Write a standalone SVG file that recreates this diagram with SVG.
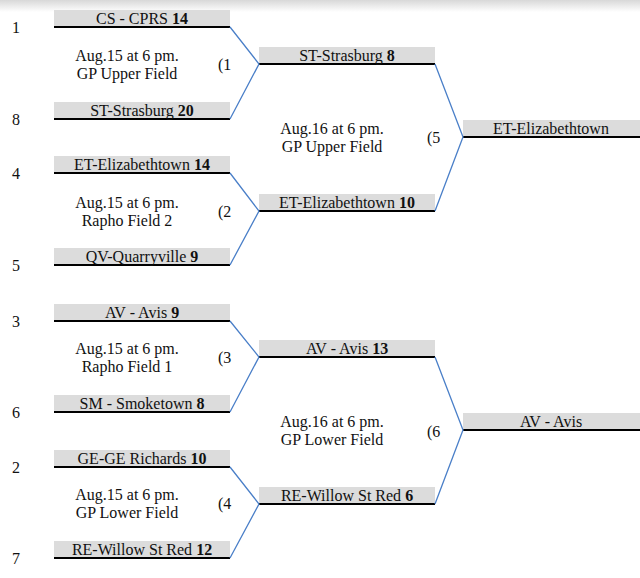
<svg xmlns="http://www.w3.org/2000/svg" width="640" height="578" viewBox="0 0 640 578" font-family="'Liberation Serif','Times New Roman','DejaVu Serif',serif">
<defs><linearGradient id="g" x1="0" y1="0" x2="0" y2="1"><stop offset="0" stop-color="#d8d8d8"/><stop offset="1" stop-color="#fff"/></linearGradient></defs>
<style>
text{font-family:'Liberation Serif','Times New Roman','DejaVu Serif',serif;font-size:16px;fill:#111}
.c{text-anchor:middle}
.bx{fill:#dcdcdc}
.ln{stroke:#000;stroke-width:2}
.cn{fill:none;stroke:#4a7fc8;stroke-width:1.3}
</style>
<rect width="640" height="578" fill="#fff"/>
<rect width="640" height="12" fill="url(#g)"/>
<g id="seeds">
<text x="12" y="33">1</text><text x="12" y="125">8</text><text x="12" y="179">4</text><text x="12" y="271">5</text>
<text x="12" y="327">3</text><text x="12" y="418">6</text><text x="12" y="473">2</text><text x="12" y="564">7</text>
</g>
<g id="r1">
<g id="n1"><rect class="bx" x="54" y="10" width="176" height="17"/><line class="ln" x1="54" y1="27" x2="230" y2="27"/><text class="c" x="142" y="24">CS - CPRS <tspan font-weight="bold">14</tspan></text></g>
<g id="n8"><rect class="bx" x="54" y="102" width="176" height="17"/><line class="ln" x1="54" y1="119" x2="230" y2="119"/><text class="c" x="142" y="116">ST-Strasburg <tspan font-weight="bold">20</tspan></text></g>
<g id="n4"><rect class="bx" x="54" y="156" width="176" height="17"/><line class="ln" x1="54" y1="173" x2="230" y2="173"/><text class="c" x="142" y="170">ET-Elizabethtown <tspan font-weight="bold">14</tspan></text></g>
<g id="n5"><rect class="bx" x="54" y="248" width="176" height="17"/><line class="ln" x1="54" y1="265" x2="230" y2="265"/><text class="c" x="142" y="262">QV-Quarryville <tspan font-weight="bold">9</tspan></text></g>
<g id="n3"><rect class="bx" x="54" y="304" width="176" height="17"/><line class="ln" x1="54" y1="321" x2="230" y2="321"/><text class="c" x="142" y="318">AV - Avis <tspan font-weight="bold">9</tspan></text></g>
<g id="n6"><rect class="bx" x="54" y="395" width="176" height="17"/><line class="ln" x1="54" y1="412" x2="230" y2="412"/><text class="c" x="142" y="409">SM - Smoketown <tspan font-weight="bold">8</tspan></text></g>
<g id="n2"><rect class="bx" x="54" y="450" width="176" height="17"/><line class="ln" x1="54" y1="467" x2="230" y2="467"/><text class="c" x="142" y="464">GE-GE Richards <tspan font-weight="bold">10</tspan></text></g>
<g id="n7"><rect class="bx" x="54" y="541" width="176" height="17"/><line class="ln" x1="54" y1="558" x2="230" y2="558"/><text class="c" x="142" y="555">RE-Willow St Red <tspan font-weight="bold">12</tspan></text></g>
</g>
<g id="r2">
<g id="w1"><rect class="bx" x="259" y="47" width="176" height="17"/><line class="ln" x1="259" y1="64" x2="435" y2="64"/><text class="c" x="347" y="61">ST-Strasburg <tspan font-weight="bold">8</tspan></text></g>
<g id="w2"><rect class="bx" x="259" y="194" width="176" height="17"/><line class="ln" x1="259" y1="211" x2="435" y2="211"/><text class="c" x="347" y="208">ET-Elizabethtown <tspan font-weight="bold">10</tspan></text></g>
<g id="w3"><rect class="bx" x="259" y="340" width="176" height="17"/><line class="ln" x1="259" y1="357" x2="435" y2="357"/><text class="c" x="347" y="354">AV - Avis <tspan font-weight="bold">13</tspan></text></g>
<g id="w4"><rect class="bx" x="259" y="487" width="176" height="17"/><line class="ln" x1="259" y1="504" x2="435" y2="504"/><text class="c" x="347" y="501">RE-Willow St Red <tspan font-weight="bold">6</tspan></text></g>
</g>
<g id="r3">
<g id="f1"><rect class="bx" x="463" y="120" width="177" height="17"/><line class="ln" x1="463" y1="137" x2="640" y2="137"/><text class="c" x="551" y="134">ET-Elizabethtown</text></g>
<g id="f2"><rect class="bx" x="463" y="413" width="177" height="17"/><line class="ln" x1="463" y1="430" x2="640" y2="430"/><text class="c" x="551" y="427">AV - Avis</text></g>
</g>
<g id="connectors">
<polyline class="cn" points="230,27 259,64 230,119"/>
<polyline class="cn" points="230,173 259,211 230,265"/>
<polyline class="cn" points="230,321 259,357 230,412"/>
<polyline class="cn" points="230,467 259,504 230,558"/>
<polyline class="cn" points="435,64 463,137 435,211"/>
<polyline class="cn" points="435,357 463,430 435,504"/>
</g>
<g id="labels">
<text class="c" x="127" y="61">Aug.15 at 6 pm.</text><text class="c" x="127" y="79">GP Upper Field</text><text x="218" y="70">(1</text>
<text class="c" x="127" y="208">Aug.15 at 6 pm.</text><text class="c" x="127" y="226">Rapho Field 2</text><text x="218" y="217">(2</text>
<text class="c" x="127" y="354">Aug.15 at 6 pm.</text><text class="c" x="127" y="372">Rapho Field 1</text><text x="218" y="363">(3</text>
<text class="c" x="127" y="500">Aug.15 at 6 pm.</text><text class="c" x="127" y="518">GP Lower Field</text><text x="218" y="509">(4</text>
<text class="c" x="332" y="134">Aug.16 at 6 pm.</text><text class="c" x="332" y="152">GP Upper Field</text><text x="427" y="143">(5</text>
<text class="c" x="332" y="427">Aug.16 at 6 pm.</text><text class="c" x="332" y="445">GP Lower Field</text><text x="427" y="437">(6</text>
</g>
</svg>
